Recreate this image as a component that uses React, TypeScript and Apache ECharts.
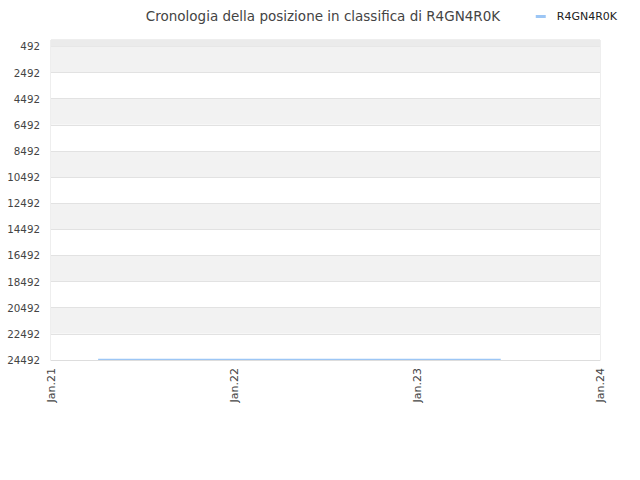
import React, { useEffect, useRef } from 'react';
import * as echarts from 'echarts';

// dati
const playerName = 'R4GN4R0K';
const chartTitle = 'Cronologia della posizione in classifica di R4GN4R0K';
const rankDates = ['2021-04-05', '2021-10-01', '2022-04-01', '2022-10-01', '2023-04-01', '2023-06-17'];
const rankValues = [24440, 24440, 24440, 24440, 24440, 24440];
const yTicks = [492, 2492, 4492, 6492, 8492, 10492, 12492, 14492, 16492, 18492, 20492, 22492, 24492];
const xTickDates = ['2021-01-01', '2022-01-01', '2023-01-01', '2024-01-01'];

const toTime = (d: string) => {
  const [y, m, day] = d.split('-').map(Number);
  return Date.UTC(y, m - 1, day);
};

const App: React.FC = () => {
  const chartRef = useRef<HTMLDivElement>(null);

  useEffect(() => {
    if (!chartRef.current) return;
    const chart = echarts.init(chartRef.current, null, { renderer: 'svg' });
    const font = 'DejaVu Sans';
    const xTicks = xTickDates.map(toTime);

    const option = {
      animation: false,
      textStyle: { fontFamily: font },
      title: {
        text: chartTitle,
        left: 318,
        textAlign: 'center',
        top: 4,
        textStyle: { fontSize: 13.5, fontWeight: 'normal', color: '#444', fontFamily: font }
      },
      legend: {
        right: 18,
        top: 6,
        icon: 'rect',
        itemWidth: 10,
        itemHeight: 3,
        itemGap: 8,
        textStyle: { fontSize: 11, color: '#222', fontFamily: font, padding: [0, 0, 0, 6] },
        data: [playerName]
      },
      grid: {
        left: 51,
        right: 40,
        top: 40,
        bottom: 120,
        show: true,
        borderColor: '#ddd',
        borderWidth: 1,
        containLabel: false
      },
      xAxis: {
        type: 'value',
        min: xTicks[0],
        max: xTicks[xTicks.length - 1],
        axisLine: { show: true, lineStyle: { color: '#ddd' } },
        axisTick: { show: false, customValues: xTicks },
        splitLine: { show: false },
        axisLabel: {
          customValues: xTicks,
          rotate: 90,
          fontSize: 11,
          color: '#444',
          margin: 8,
          formatter: (v: number) => {
            const d = new Date(v);
            return 'Jan.' + String(d.getUTCFullYear()).slice(2);
          }
        }
      },
      yAxis: {
        type: 'value',
        inverse: true,
        min: 1,
        max: 24492,
        axisLine: { show: false },
        axisTick: { show: false, customValues: yTicks },
        axisLabel: {
          customValues: yTicks,
          fontSize: 10.3,
          color: '#444',
          margin: 11,
          formatter: (v: number) => String(v)
        },
        splitLine: { show: true, lineStyle: { color: '#e2e2e2' } },
        splitArea: { show: true, areaStyle: { color: ['#f2f2f2', '#ffffff'] } }
      },
      series: [
        {
          name: playerName,
          type: 'line',
          data: rankDates.map((d, i) => [toTime(d), rankValues[i]]),
          showSymbol: false,
          lineStyle: { color: '#9cc6f5', width: 1.2 },
          itemStyle: { color: '#9cc6f5' },
          markArea: {
            silent: true,
            itemStyle: { color: '#ebebeb' },
            data: [[{ yAxis: 1 }, { yAxis: yTicks[0] }]]
          }
        }
      ]
    };

    chart.setOption(option);
    return () => {
      chart.dispose();
    };
  }, []);

  return (
    <div
      ref={chartRef}
      style={{ position: 'absolute', left: 0, top: 0, width: 640, height: 480 }}
    />
  );
};

export default App;
